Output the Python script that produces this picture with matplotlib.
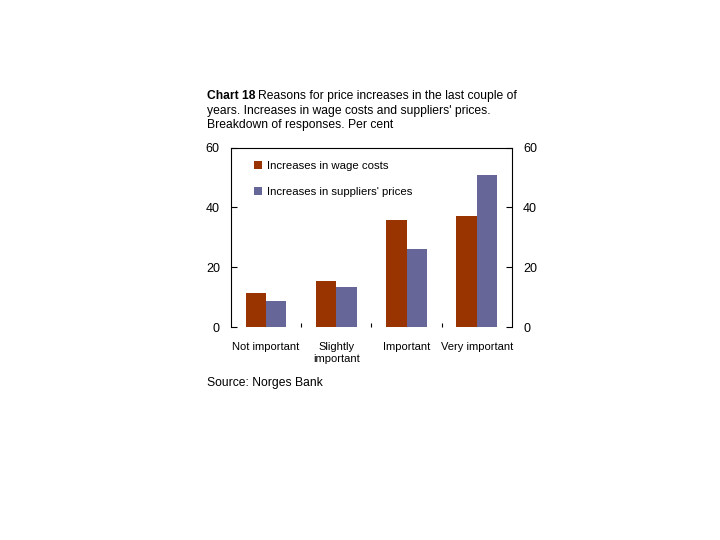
import matplotlib.pyplot as plt
import numpy as np

plt.rcParams['font.family'] = ['Liberation Sans', 'DejaVu Sans']

categories = ['Not important', 'Slightly\nimportant', 'Important', 'Very important']
wage_costs = [11.5, 15.4, 35.8, 37.1]
suppliers_prices = [8.7, 13.4, 26.1, 50.9]
yticks = [0, 20, 40, 60]

c_wage = '#993300'
c_supp = '#666699'

fig = plt.figure(figsize=(7.2, 5.4), dpi=100)
ax = fig.add_axes([0.3208, 0.3944, 0.3903, 0.3324])

x = np.arange(len(categories))
w = 0.29
ax.bar(x - w / 2, wage_costs, w, color=c_wage, label='Increases in wage costs')
ax.bar(x + w / 2, suppliers_prices, w, color=c_supp, label="Increases in suppliers' prices")

ax.set_xlim(-0.5, len(categories) - 0.5)
ax.set_ylim(0, 60)
ax.set_yticks(yticks)
ax.tick_params(axis='y', direction='in', length=4, width=0.8, labelsize=9,
               left=True, right=True, labelleft=True, labelright=True, pad=8)
ax.set_xticks(x)
ax.set_xticklabels(categories, fontsize=8, linespacing=1.25)
ax.tick_params(axis='x', which='major', length=0, pad=11)
ax.set_xticks(np.arange(0.5, len(categories) - 0.5, 1), minor=True)
ax.tick_params(axis='x', which='minor', direction='in', length=3, width=0.8)
ax.spines['bottom'].set_visible(False)
for s in ['left', 'right', 'top']:
    ax.spines[s].set_linewidth(0.8)

ax.legend(loc='upper left', bbox_to_anchor=(0.045, 0.98), frameon=False, fontsize=8.2,
          handlelength=0.7, handleheight=0.7, handletextpad=0.45, labelspacing=1.35)

fig.text(0.2875, 0.8167, 'Chart 18', fontsize=8.7, fontweight='bold', va='baseline')
fig.text(0.2875 + 0.0715, 0.8167, 'Reasons for price increases in the last couple of',
         fontsize=8.7, va='baseline')
fig.text(0.2875, 0.789, "years. Increases in wage costs and suppliers' prices.", fontsize=8.7, va='baseline')
fig.text(0.2875, 0.763, 'Breakdown of responses. Per cent', fontsize=8.7, va='baseline')
fig.text(0.2875, 0.285, 'Source: Norges Bank', fontsize=8.7, va='baseline')

fig.savefig('out.png', dpi=100)
